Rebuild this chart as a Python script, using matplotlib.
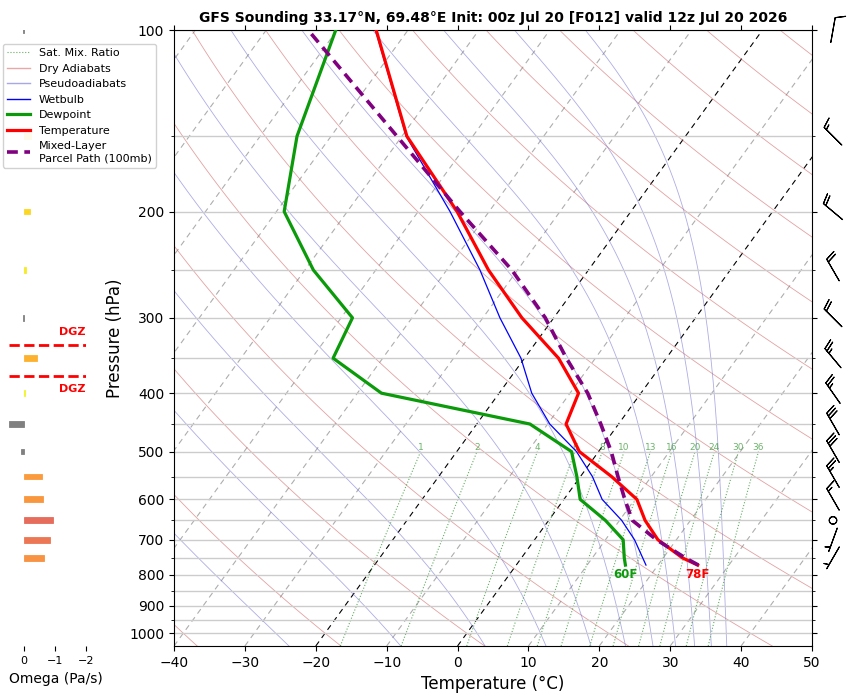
import numpy as np
import matplotlib
matplotlib.use("Agg")
import matplotlib.pyplot as plt
from matplotlib.lines import Line2D
from matplotlib.transforms import Affine2D
from matplotlib.ticker import FixedLocator, NullFormatter

P_BOT, P_TOP = 1050, 100
T_MIN, T_MAX = -40, 50
SKEW_DEG = 35

TITLE = "GFS Sounding 33.17°N, 69.48°E Init: 00z Jul 20 [F012] valid 12z Jul 20 2026"

# profile levels (hPa), first one is the model surface
LEVELS = [771, 750, 700, 650, 600, 550, 500, 450, 400, 350, 300, 250, 200, 150, 100]
TEMP = [25.6, 22.7, 17.4, 13.6, 10.3, 4.4, -2.7, -7.4, -8.8, -15.2, -24.5, -34.1, -44.5, -59.3, -74.5]
DEWP = [15.4, 14.5, 12.5, 8.0, 2.3, -0.5, -3.8, -12.5, -36.6, -47.0, -48.4, -58.8, -68.9, -74.8, -80.2]
WETB = [18.3, 17.1, 14.1, 10.3, 5.4, 1.7, -3.1, -9.7, -15.4, -20.5, -27.6, -35.3, -45.5, -59.4, -74.6]
PARCEL = [25.7, 23.1, 17.2, 11.8, 8.6, 5.3, 1.8, -2.5, -7.5, -14.1, -21.2, -30.8, -44.1, -60.7, -84.1]

# omega (Pa/s) and winds on standard levels
STD_P = [100, 150, 200, 250, 300, 350, 400, 450, 500, 550, 600, 650, 700, 750]
OMEGA = [0.02, -0.23, -0.20, -0.08, 0.02, -0.42, -0.02, 0.48, 0.10, -0.58, -0.61, -0.93, -0.84, -0.64]
WDIR = [10, 315, 310, 330, 315, 320, 325, 330, 330, 330, 330, 0, 200, 210]
WSPD = [10, 15, 20, 20, 20, 25, 25, 30, 30, 25, 15, 0, 5, 5]

DGZ_P = [333, 374]

# background line sets
ISOTHERMS = np.arange(-140, 51, 10)
DRY_THETA_C = np.arange(-60, 241, 20)
MOIST_T100 = np.arange(-145, -44, 10)
MIX_RATIOS = [1, 2, 4, 6, 8, 10, 13, 16, 20, 24, 30, 36]

RD, CP, LV, EPS = 287.04, 1005.7, 2.501e6, 0.622

DRY_COLOR = "#cc5555"
MOIST_COLOR = "#6a6ad0"
MIX_COLOR = "#3a9a3a"
DEWP_COLOR = "#0a9a0a"


def sat_vp(t_c):
    return 6.112 * np.exp(17.67 * t_c / (t_c + 243.5))


def moist_dtdp(p, t):
    es = sat_vp(t - 273.15)
    rs = EPS * es / (p - es)
    return (RD * t + LV * rs) / (CP + LV * LV * rs * EPS / (RD * t * t)) / p


def moist_adiabats(t_top_c, p):
    # RK4 down from the top of the chart
    t = np.empty((len(p), len(t_top_c)))
    t[0] = np.asarray(t_top_c) + 273.15
    for i in range(1, len(p)):
        h = p[i] - p[i - 1]
        y = t[i - 1]
        k1 = moist_dtdp(p[i - 1], y)
        k2 = moist_dtdp(p[i - 1] + h / 2, y + h / 2 * k1)
        k3 = moist_dtdp(p[i - 1] + h / 2, y + h / 2 * k2)
        k4 = moist_dtdp(p[i], y + h * k3)
        t[i] = y + h / 6 * (k1 + 2 * k2 + 2 * k3 + k4)
    return t - 273.15


def mixr_dewpoint(w_gkg, p):
    w = w_gkg / 1000.0
    a = np.log(p * w / (EPS + w) / 6.112)
    return 243.5 * a / (17.67 - a)


fig = plt.figure(figsize=(8.54, 6.94), dpi=100)
ax = fig.add_axes([174 / 854, 48 / 694, 638 / 854, 616 / 694])
ax.set_yscale("log")
ax.set_xlim(T_MIN, T_MAX)
ax.set_ylim(P_BOT, P_TOP)
skew = ax.transScale + ax.transLimits + Affine2D().skew_deg(SKEW_DEG, 0) + ax.transAxes

p_full = np.geomspace(P_BOT, P_TOP, 120)

# isotherms
for t in ISOTHERMS:
    hi = t in (-20, 0)
    ax.plot([t, t], [P_BOT, P_TOP], transform=skew, color="k" if hi else "#999999",
            ls=(0, (5, 4)), lw=0.8, alpha=1 if hi else 0.8, zorder=1)

# dry adiabats
for th in DRY_THETA_C:
    t = (th + 273.15) * (p_full / 1000.0) ** (RD / CP) - 273.15
    ax.plot(t, p_full, transform=skew, color=DRY_COLOR, lw=0.6, alpha=0.55, zorder=1)

# pseudoadiabats
p_down = np.geomspace(P_TOP, P_BOT, 150)
ma = moist_adiabats(MOIST_T100, p_down)
for i in range(ma.shape[1]):
    ax.plot(ma[:, i], p_down, transform=skew, color=MOIST_COLOR, lw=0.6, alpha=0.55, zorder=1)

# saturation mixing ratio lines
p_mix = np.geomspace(P_BOT, 500, 40)
for w in MIX_RATIOS:
    ax.plot(mixr_dewpoint(w, p_mix), p_mix, transform=skew, color=MIX_COLOR, ls=":",
            lw=0.8, alpha=0.8, zorder=1)
    ax.text(mixr_dewpoint(w, 500.0), 500, str(w), transform=skew, ha="center", va="bottom",
            fontsize=6.5, color=MIX_COLOR, alpha=0.75, zorder=2)

# profiles
ax.plot(WETB, LEVELS, transform=skew, color="blue", lw=0.9, zorder=4)
ax.plot(DEWP, LEVELS, transform=skew, color=DEWP_COLOR, lw=2.3, zorder=5)
ax.plot(TEMP, LEVELS, transform=skew, color="red", lw=2.3, zorder=5)
ax.plot(PARCEL, LEVELS, transform=skew, color="purple", lw=2.6, ls=(0, (3, 1.8)), zorder=6)

ax.annotate("60F", xy=(DEWP[0], LEVELS[0]), xycoords=skew, xytext=(0, -2),
            textcoords="offset points", ha="center", va="top", fontsize=8.5,
            fontweight="bold", color=DEWP_COLOR, zorder=7)
ax.annotate("78F", xy=(TEMP[0], LEVELS[0]), xycoords=skew, xytext=(0, -2),
            textcoords="offset points", ha="center", va="top", fontsize=8.5,
            fontweight="bold", color="red", zorder=7)

ax.yaxis.set_major_locator(FixedLocator(range(100, 1001, 100)))
ax.yaxis.set_major_formatter(plt.FuncFormatter(lambda v, pos: "%d" % v))
ax.yaxis.set_minor_locator(FixedLocator(range(150, 1001, 100)))
ax.yaxis.set_minor_formatter(NullFormatter())
ax.set_xticks(range(T_MIN, T_MAX + 1, 10))
ax.tick_params(which="both", top=True, right=True, labelsize=10)
ax.grid(True, axis="y", which="both", color="#cccccc", lw=1, zorder=0)
ax.set_xlabel("Temperature (°C)", fontsize=12)
ax.set_ylabel("Pressure (hPa)", fontsize=12)
ax.set_title(TITLE, fontsize=10, fontweight="bold")
ax.set_xlim(T_MIN, T_MAX)
ax.set_ylim(P_BOT, P_TOP)

# omega panel
axw = fig.add_axes([8.5 / 854, 48 / 694, 77.5 / 854, 616 / 694])
axw.set_yscale("log")
cmap = plt.get_cmap("plasma")
for p, w in zip(STD_P, OMEGA):
    c = "#808080" if w >= 0 else cmap(1 - abs(w) / 2.5)
    axw.barh(p, w, height=p * 0.022, color=c, edgecolor=c, lw=0.6)
for p, va, off in zip(DGZ_P, ["bottom", "top"], [1.03, 0.97]):
    axw.axhline(p, color="red", ls="--", lw=2)
    axw.text(0.99, p / off, "DGZ", transform=axw.get_yaxis_transform(), ha="right", va=va,
             color="red", fontsize=8, fontweight="bold")
axw.set_xlim(0.5, -2.0)
axw.set_ylim(P_BOT, P_TOP)
axw.set_xticks([0, -1, -2])
axw.set_yticks([])
axw.minorticks_off()
axw.tick_params(axis="x", labelsize=8)
for s in axw.spines.values():
    s.set_visible(False)
axw.set_xlabel("Omega (Pa/s)", fontsize=10)
axw.xaxis.set_label_coords(0.613, -0.042)

# wind barbs
axb = fig.add_axes([812 / 854, 48 / 694, 42 / 854, 616 / 694])
axb.set_yscale("log")
rad = np.deg2rad(WDIR)
u = -np.array(WSPD) * np.sin(rad)
v = -np.array(WSPD) * np.cos(rad)
axb.barbs(np.zeros(len(STD_P)), STD_P, u, v, length=6, pivot="middle", lw=0.8, clip_on=False)
axb.set_xlim(-1, 1)
axb.set_ylim(P_BOT, P_TOP)
axb.axis("off")

handles = [
    Line2D([], [], color=MIX_COLOR, ls=":", lw=0.8, alpha=0.8),
    Line2D([], [], color="#e8a8a8", lw=1),
    Line2D([], [], color="#a8a8e8", lw=1),
    Line2D([], [], color="blue", lw=1),
    Line2D([], [], color=DEWP_COLOR, lw=2.3),
    Line2D([], [], color="red", lw=2.3),
    Line2D([], [], color="purple", lw=2.6, ls=(0, (3, 1.8))),
]
labels = ["Sat. Mix. Ratio", "Dry Adiabats", "Pseudoadiabats", "Wetbulb", "Dewpoint",
          "Temperature", "Mixed-Layer\nParcel Path (100mb)"]
fig.legend(handles, labels, loc="upper left", bbox_to_anchor=(0.0035, 0.937),
           borderaxespad=0, fontsize=8, framealpha=0.9)

fig.savefig("out.png", dpi=100)
